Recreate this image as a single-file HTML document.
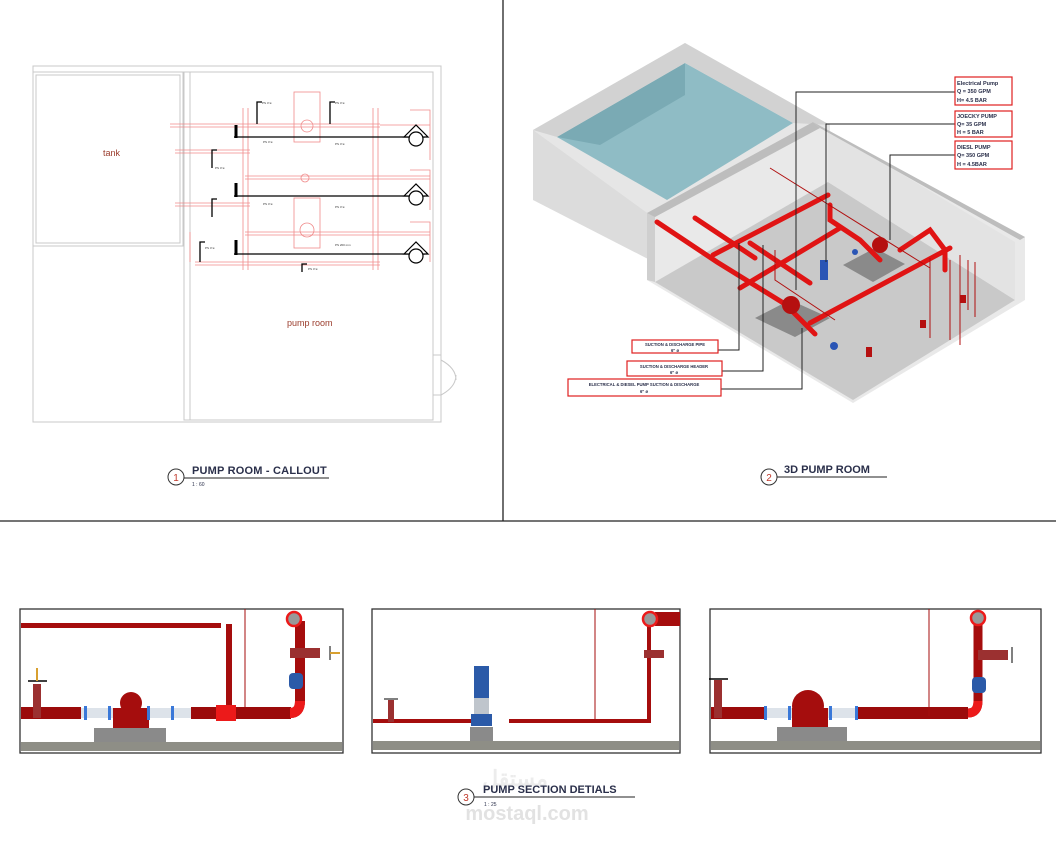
<!DOCTYPE html>
<html><head><meta charset="utf-8"><style>
html,body{margin:0;padding:0;background:#fff;}
svg{display:block;font-family:"Liberation Sans",sans-serif;}
</style></head><body>
<svg width="1056" height="843" viewBox="0 0 1056 843" xmlns="http://www.w3.org/2000/svg">
<line x1="503" y1="0" x2="503" y2="521" stroke="#222" stroke-width="1.3"/>
<line x1="0" y1="521" x2="1056" y2="521" stroke="#222" stroke-width="1.3"/>

<g fill="none" stroke="#c8c8c8" stroke-width="1">
<rect x="33" y="66" width="408" height="356"/>
<rect x="33" y="72" width="150" height="174"/>
<rect x="36" y="75" width="144" height="168"/>
<rect x="190" y="72" width="243" height="348"/>
<rect x="184" y="72" width="6" height="348"/>
<line x1="33" y1="246" x2="184" y2="246"/>
<rect x="433" y="355" width="8" height="40"/>
<path d="M441 360 q15 8 15 20 M441 395 q15 -8 15 -20"/>
</g>
<text x="103" y="156" font-size="9" fill="#9a3b2b">tank</text>
<text x="287" y="326" font-size="9" fill="#9a3b2b">pump room</text>
<g fill="none" stroke="#f08a8a" stroke-width="0.8">
<line x1="170" y1="124" x2="380" y2="124"/><line x1="170" y1="127" x2="380" y2="127"/>
<line x1="380" y1="125" x2="430" y2="125"/>
<line x1="175" y1="150" x2="250" y2="150"/><line x1="175" y1="153" x2="250" y2="153"/>
<line x1="245" y1="176" x2="430" y2="176"/><line x1="245" y1="179" x2="430" y2="179"/>
<line x1="175" y1="203" x2="250" y2="203"/><line x1="175" y1="206" x2="250" y2="206"/>
<line x1="245" y1="232" x2="430" y2="232"/><line x1="245" y1="235" x2="430" y2="235"/>
<line x1="195" y1="262" x2="380" y2="262"/><line x1="195" y1="265" x2="380" y2="265"/>
<line x1="243" y1="108" x2="243" y2="270"/><line x1="248" y1="108" x2="248" y2="270"/>
<line x1="373" y1="108" x2="373" y2="270"/><line x1="378" y1="108" x2="378" y2="270"/>
<rect x="294" y="92" width="26" height="50"/><rect x="294" y="198" width="26" height="50"/>
<circle cx="307" cy="126" r="6"/><circle cx="307" cy="230" r="7"/><circle cx="305" cy="178" r="4"/>
<path d="M410 110 h20 v50 M410 170 h20 v40 M410 222 h20 v40 M190 232 v30"/>
</g>
<g stroke="#000" stroke-width="1.3" fill="none">
<line x1="234" y1="137" x2="425" y2="137"/><line x1="234" y1="196" x2="425" y2="196"/><line x1="234" y1="254" x2="425" y2="254"/>
<line x1="236" y1="125" x2="236" y2="138" stroke-width="3"/><line x1="236" y1="183" x2="236" y2="197" stroke-width="3"/><line x1="236" y1="240" x2="236" y2="255" stroke-width="3"/>
<path d="M257 124 v-22 h5 M330 124 v-22 h5 M212 168 v-18 h5 M212 217 v-18 h5 M200 262 v-20 h5 M302 272 v-8 h5"/>
</g>
<g fill="#fff" stroke="#000" stroke-width="1.2">
<path d="M404 137 L416 125 L428 137 Z"/><path d="M404 196 L416 184 L428 196 Z"/><path d="M404 254 L416 242 L428 254 Z"/>
<circle cx="416" cy="139" r="7"/><circle cx="416" cy="198" r="7"/><circle cx="416" cy="256" r="7"/>
</g>
<g font-size="3" fill="#333"><text x="262" y="104">PS 4"ø</text><text x="335" y="104">PS 4"ø</text><text x="263" y="143">PS 4"ø</text><text x="335" y="145">PS 4"ø</text><text x="215" y="169">PS 4"ø</text><text x="263" y="205">PS 4"ø</text><text x="335" y="208">PS 4"ø</text><text x="335" y="246">PS 200 mm</text><text x="205" y="249">PS 4"ø</text><text x="308" y="270">PS 4"ø</text></g>

<circle cx="176" cy="477" r="8" fill="#fff" stroke="#333" stroke-width="1"/>
<text x="176" y="481" font-size="10" fill="#c0392b" text-anchor="middle">1</text>
<text x="192" y="474" font-size="11" fill="#2a2f4a" font-weight="bold" letter-spacing="0.2">PUMP ROOM - CALLOUT</text>
<line x1="184" y1="478" x2="329" y2="478" stroke="#222" stroke-width="1"/>
<text x="192" y="486" font-size="5" fill="#2a2f4a">1 : 60</text>

<polygon points="533,130 685,43 830,125 830,135 667,225 533,200" fill="#e6e6e6"/>
<polygon points="533,130 533,200 650,260 650,215" fill="#dcdcdc"/>
<polygon points="557,137 685,63 793,123 667,200" fill="#8fbcc5"/>
<polygon points="557,137 685,63 685,95 600,145" fill="#7aaab4"/>
<polygon points="533,130 685,43 830,125 793,123 685,63 557,137" fill="#d2d2d2"/>
<polygon points="647,213 813,122 1025,237 1025,300 853,403 647,280" fill="#e9e9e9"/>
<polygon points="655,282 828,182 1015,300 853,400" fill="#c9c9c9"/>
<polygon points="647,213 655,215 655,282 647,280" fill="#cfcfcf"/>
<polygon points="828,130 828,182 1015,300 1015,242" fill="#e3e3e3"/>
<polygon points="813,122 1025,237 1020,240 820,128" fill="#bdbdbd"/>
<polygon points="647,213 813,122 820,128 655,217" fill="#bdbdbd"/>
<polygon points="755,318 790,300 830,318 795,337" fill="#8a8a8a"/>
<polygon points="843,265 875,248 905,264 873,282" fill="#8a8a8a"/>
<g stroke="#e01414" stroke-width="5" fill="none" stroke-linecap="round">
<path d="M657 222 l60 40 l68 42 l30 30"/>
<path d="M713 255 l115 -60"/>
<path d="M740 288 l100 -60"/>
<path d="M750 243 l60 40"/>
<path d="M695 218 l60 40"/>
<path d="M810 323 l140 -75"/>
<path d="M830 205 l0 15 l30 20 l20 20"/>
<path d="M900 250 l30 -20 l15 20 l0 20"/>
</g>
<g stroke="#b01010" stroke-width="1" fill="none">
<path d="M770 168 l160 100 M775 250 l0 30 l60 40 M930 258 l0 80 M950 260 l0 80 M960 255 l0 90 M968 260 l0 50 M975 262 l0 55"/>
</g>
<g fill="#b51010"><circle cx="791" cy="305" r="9"/><circle cx="880" cy="245" r="8"/><rect x="920" y="320" width="6" height="8"/><rect x="960" y="295" width="6" height="8"/><rect x="866" y="347" width="6" height="10"/></g>
<g fill="#2a55b5"><rect x="820" y="260" width="8" height="20"/><circle cx="834" cy="346" r="4"/><circle cx="855" cy="252" r="3"/></g>
<g stroke="#222" stroke-width="1" fill="none">
<path d="M955 92 H796 V290"/><path d="M955 124 H826 V262"/><path d="M955 155 H890 V240"/>
<path d="M718 350 H739 V243"/><path d="M722 371 H763 V245"/><path d="M721 389 H802 V328"/>
</g>
<g fill="#fff" stroke="#e02020" stroke-width="1.2">
<rect x="955" y="77" width="57" height="28"/><rect x="955" y="111" width="57" height="26"/><rect x="955" y="141" width="57" height="28"/>
<rect x="632" y="340" width="86" height="13"/><rect x="627" y="361" width="95" height="15"/><rect x="568" y="379" width="153" height="17"/>
</g>
<g font-size="5.5" fill="#2a2f4a" font-weight="bold">
<text x="957" y="85">Electrical Pump</text><text x="957" y="93">Q = 350 GPM</text><text x="957" y="102">H= 4.5 BAR</text>
<text x="957" y="118">JOECKY PUMP</text><text x="957" y="126">Q= 35 GPM</text><text x="957" y="134">H = 5 BAR</text>
<text x="957" y="149">DIESL PUMP</text><text x="957" y="157">Q= 350 GPM</text><text x="957" y="166">H = 4.5BAR</text>
<g font-size="4.2" text-anchor="middle"><text x="675" y="346">SUCTION &amp; DISCHARGE PIPE</text><text x="675" y="352">6" ø</text>
<text x="674" y="368">SUCTION &amp; DISCHARGE HEADER</text><text x="674" y="374">6" ø</text>
<text x="644" y="386">ELECTRICAL &amp; DIESEL PUMP SUCTION &amp; DISCHARGE</text><text x="644" y="393">6" ø</text></g>
</g>
<circle cx="769" cy="477" r="8" fill="#fff" stroke="#333" stroke-width="1"/>
<text x="769" y="481" font-size="10" fill="#c0392b" text-anchor="middle">2</text>
<text x="784" y="473" font-size="11" fill="#2a2f4a" font-weight="bold">3D PUMP ROOM</text>
<line x1="777" y1="477" x2="887" y2="477" stroke="#222" stroke-width="1"/>

<rect x="20" y="609" width="323" height="144" fill="#fff" stroke="#333" stroke-width="1.3"/>
<rect x="21" y="742" width="321" height="9" fill="#8e8e86"/>
<rect x="94" y="728" width="72" height="14" fill="#8a8a8a"/>
<rect x="21" y="623" width="200" height="5" fill="#a50d0d"/>
<rect x="226" y="624" width="6" height="84" fill="#a50d0d"/>
<line x1="245" y1="609" x2="245" y2="716" stroke="#a50d0d" stroke-width="1"/>
<rect x="21" y="707" width="60" height="12" fill="#9b0b0b"/>
<rect x="81" y="708" width="110" height="10" fill="#dde3ea"/>
<rect x="191" y="707" width="100" height="12" fill="#9b0b0b"/>
<rect x="216" y="705" width="20" height="16" fill="#ec1a1a"/>
<path d="M290 713 q10 0 10 -12 v-80" stroke="#a50d0d" stroke-width="10" fill="none"/>
<path d="M290 713 q10 0 10 -12" stroke="#ec1a1a" stroke-width="10" fill="none"/>
<rect x="290" y="648" width="30" height="10" fill="#9b3030"/><line x1="330" y1="646" x2="330" y2="660" stroke="#000"/><rect x="330" y="652" width="10" height="2" fill="#d8a030"/>
<rect x="289" y="673" width="14" height="16" rx="4" fill="#2b5aa8"/>
<circle cx="294" cy="619" r="7" fill="#999" stroke="#ec1a1a" stroke-width="2.5"/>
<rect x="33" y="684" width="8" height="34" fill="#9b3030"/><line x1="28" y1="681" x2="47" y2="681" stroke="#000" stroke-width="1.5"/><rect x="36" y="668" width="2" height="13" fill="#d8a030"/>
<circle cx="131" cy="703" r="11" fill="#a50d0d"/><rect x="113" y="708" width="36" height="20" fill="#a50d0d"/>
<g fill="#3a78d8"><rect x="84" y="706" width="3" height="14"/><rect x="108" y="706" width="3" height="14"/><rect x="147" y="706" width="3" height="14"/><rect x="171" y="706" width="3" height="14"/></g>
<rect x="372" y="609" width="308" height="144" fill="#fff" stroke="#333" stroke-width="1.3"/>
<rect x="373" y="741" width="306" height="9" fill="#8e8e86"/>
<rect x="470" y="727" width="23" height="14" fill="#8a8a8a"/>
<rect x="373" y="719" width="98" height="4" fill="#a50d0d"/>
<rect x="509" y="719" width="142" height="4" fill="#a50d0d"/>
<rect x="647" y="625" width="4" height="98" fill="#a50d0d"/>
<line x1="595" y1="609" x2="595" y2="720" stroke="#a50d0d" stroke-width="1"/>
<rect x="474" y="666" width="15" height="32" fill="#2b5aa8"/><rect x="474" y="698" width="15" height="16" fill="#bfc5cc"/><rect x="471" y="714" width="21" height="12" fill="#2b5aa8"/>
<rect x="388" y="700" width="6" height="22" fill="#9b3030"/><line x1="384" y1="699" x2="398" y2="699" stroke="#000"/>
<rect x="644" y="650" width="20" height="8" fill="#9b3030"/>
<rect x="655" y="612" width="25" height="14" fill="#a50d0d"/>
<circle cx="650" cy="619" r="7" fill="#999" stroke="#ec1a1a" stroke-width="2.5"/>
<rect x="710" y="609" width="331" height="144" fill="#fff" stroke="#333" stroke-width="1.3"/>
<rect x="711" y="741" width="329" height="9" fill="#8e8e86"/>
<rect x="777" y="727" width="70" height="14" fill="#8a8a8a"/>
<rect x="711" y="707" width="55" height="12" fill="#9b0b0b"/>
<rect x="766" y="708" width="90" height="10" fill="#dde3ea"/>
<rect x="856" y="707" width="112" height="12" fill="#9b0b0b"/>
<path d="M968 713 q10 0 10 -12 v-80" stroke="#a50d0d" stroke-width="9" fill="none"/>
<path d="M968 713 q10 0 10 -12" stroke="#ec1a1a" stroke-width="9" fill="none"/>
<line x1="929" y1="609" x2="929" y2="716" stroke="#a50d0d" stroke-width="1"/>
<rect x="978" y="650" width="30" height="10" fill="#9b3030"/><line x1="1012" y1="647" x2="1012" y2="663" stroke="#000"/>
<rect x="972" y="677" width="14" height="16" rx="4" fill="#2b5aa8"/>
<circle cx="978" cy="618" r="7" fill="#999" stroke="#ec1a1a" stroke-width="2.5"/>
<circle cx="808" cy="706" r="16" fill="#a50d0d"/><rect x="792" y="708" width="36" height="19" fill="#a50d0d"/>
<rect x="714" y="680" width="8" height="38" fill="#9b3030"/><line x1="709" y1="679" x2="728" y2="679" stroke="#000" stroke-width="1.5"/>
<g fill="#3a78d8"><rect x="764" y="706" width="3" height="14"/><rect x="788" y="706" width="3" height="14"/><rect x="829" y="706" width="3" height="14"/><rect x="855" y="706" width="3" height="14"/></g>

<text x="527" y="820" font-size="20" fill="#e2e2e2" text-anchor="middle" font-weight="bold">mostaql.com</text>
<text x="515" y="786" font-size="22" fill="#ececec" text-anchor="middle" font-weight="bold">مستقل</text>
<circle cx="466" cy="797" r="8" fill="#fff" stroke="#333" stroke-width="1"/>
<text x="466" y="801" font-size="10" fill="#c0392b" text-anchor="middle">3</text>
<text x="483" y="793" font-size="11" fill="#2a2f4a" font-weight="bold">PUMP SECTION DETIALS</text>
<line x1="474" y1="797" x2="635" y2="797" stroke="#222" stroke-width="1"/>
<text x="484" y="806" font-size="5" fill="#2a2f4a">1 : 25</text>
</svg>
</body></html>
